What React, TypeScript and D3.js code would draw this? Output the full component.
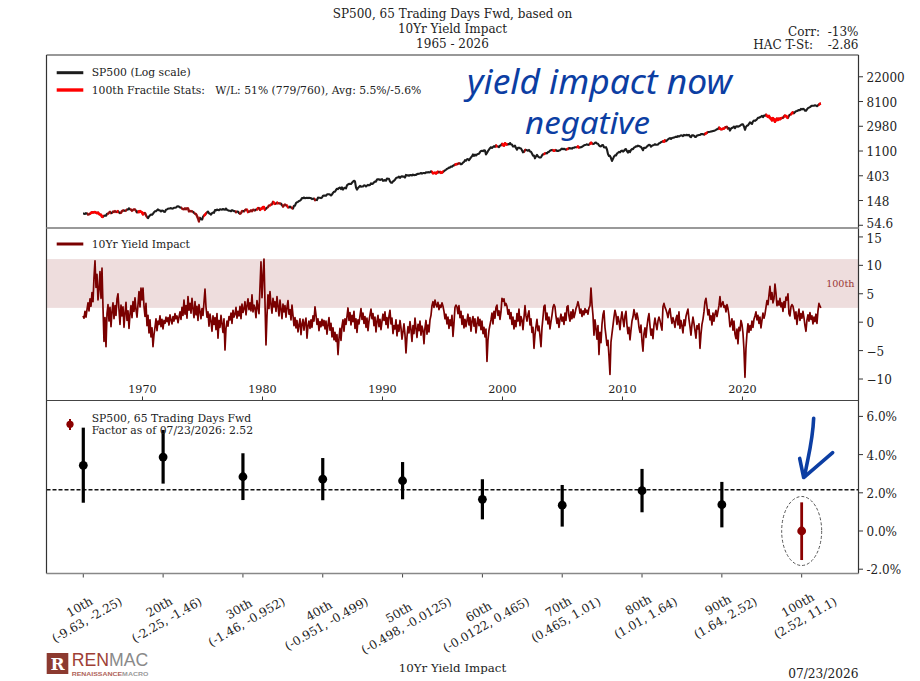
import React from 'react';
import * as d3 from 'd3';

// ---------------- DATA ----------------
const START_YEAR = 1965; // monthly series, Jan 1965 .. Jul 2026

const sp500: number[] = [
  87.6, 87.4, 86.2, 89.1, 88.0, 84.1, 85.3, 87.2, 89.9, 92.4, 91.6, 92.4, // 1965
  92.9, 91.2, 89.2, 91.1, 86.1, 84.7, 83.6, 77.1, 76.6, 80.2, 80.5, 80.3, // 1966
  86.6, 86.8, 90.2, 94.0, 89.1, 90.6, 94.8, 93.6, 96.7, 93.9, 94.0, 96.5, // 1967
  92.2, 89.4, 90.2, 97.6, 98.7, 99.6, 97.7, 98.9, 102.7, 103.4, 108.4, 103.9, // 1968
  103.0, 98.1, 101.5, 103.7, 103.5, 97.7, 91.8, 95.5, 93.1, 97.1, 93.8, 92.1, // 1969
  85.0, 89.5, 89.6, 81.5, 76.6, 72.7, 78.1, 81.5, 84.3, 83.3, 87.2, 92.2, // 1970
  95.9, 96.8, 100.3, 103.9, 99.6, 99.7, 95.6, 99.0, 98.3, 94.2, 94.0, 102.1, // 1971
  103.9, 106.6, 107.2, 107.7, 109.5, 107.1, 107.4, 111.1, 110.6, 111.6, 116.7, 118.1, // 1972
  116.0, 111.7, 111.5, 107.0, 105.0, 104.3, 108.2, 104.3, 108.4, 108.3, 96.0, 97.6, // 1973
  96.6, 96.2, 94.0, 90.3, 87.3, 86.0, 79.3, 72.2, 63.5, 73.9, 70.0, 68.6, // 1974
  77.0, 81.6, 83.4, 87.3, 91.2, 95.2, 88.8, 86.9, 83.9, 89.0, 91.2, 90.2, // 1975
  100.9, 99.7, 102.8, 101.6, 100.2, 104.3, 103.4, 102.9, 105.2, 102.9, 102.1, 107.5, // 1976
  102.0, 99.8, 98.4, 98.4, 96.1, 100.5, 98.9, 96.8, 96.5, 92.3, 94.8, 95.1, // 1977
  89.3, 87.0, 89.2, 96.8, 97.2, 95.5, 100.7, 103.3, 102.5, 93.2, 94.7, 96.1, // 1978
  99.9, 96.3, 101.6, 101.8, 99.1, 102.9, 103.8, 109.3, 109.3, 101.8, 106.2, 107.9, // 1979
  114.2, 113.7, 102.1, 106.3, 111.2, 114.2, 121.7, 122.4, 125.5, 127.5, 140.5, 135.8, // 1980
  129.6, 131.3, 136.0, 132.8, 132.6, 131.2, 130.9, 122.8, 116.2, 121.9, 126.4, 122.6, // 1981
  120.4, 113.1, 112.0, 116.4, 111.9, 109.6, 107.1, 119.5, 120.4, 133.7, 138.5, 140.6, // 1982
  145.3, 148.1, 153.0, 164.4, 162.4, 168.1, 162.6, 164.4, 166.1, 163.6, 166.4, 164.9, // 1983
  163.4, 157.1, 159.2, 160.1, 150.6, 153.2, 150.7, 166.7, 166.1, 166.1, 163.6, 167.2, // 1984
  179.6, 181.2, 180.7, 179.8, 189.6, 191.9, 190.9, 188.6, 182.1, 189.8, 202.2, 211.3, // 1985
  211.8, 226.9, 238.9, 235.5, 247.4, 250.8, 236.1, 252.9, 231.3, 244.0, 249.2, 242.2, // 1986
  274.1, 284.2, 291.7, 288.4, 290.1, 304.0, 318.7, 329.8, 321.8, 251.8, 230.3, 247.1, // 1987
  257.1, 267.8, 258.9, 261.3, 262.2, 273.5, 272.0, 261.5, 271.9, 279.0, 273.7, 277.7, // 1988
  297.5, 288.9, 294.9, 309.6, 320.5, 318.0, 346.1, 351.5, 349.2, 340.4, 346.0, 353.4, // 1989
  329.1, 331.9, 339.9, 330.8, 361.2, 358.0, 356.2, 322.6, 306.1, 304.0, 322.2, 330.2, // 1990
  343.9, 367.1, 375.2, 375.3, 389.8, 371.2, 387.8, 395.4, 387.9, 392.5, 375.2, 417.1, // 1991
  408.8, 412.7, 403.7, 415.0, 415.4, 408.1, 424.2, 414.0, 417.8, 418.7, 431.4, 435.7, // 1992
  438.8, 443.4, 451.7, 440.2, 450.2, 450.5, 448.1, 463.6, 458.9, 467.8, 461.8, 466.5, // 1993
  481.6, 467.1, 445.8, 450.9, 456.5, 444.3, 458.3, 475.5, 462.7, 472.4, 453.7, 459.3, // 1994
  470.4, 487.4, 500.7, 514.7, 533.4, 544.8, 562.1, 561.9, 584.4, 581.5, 605.4, 615.9, // 1995
  636.0, 640.4, 645.5, 654.2, 669.1, 670.6, 640.0, 652.0, 687.3, 705.3, 757.0, 740.7, // 1996
  786.2, 790.8, 757.1, 801.3, 848.3, 885.1, 954.3, 899.5, 947.3, 914.6, 955.4, 970.4, // 1997
  980.3, 1049.3, 1101.8, 1111.8, 1090.8, 1133.8, 1120.7, 957.3, 1017.0, 1098.7, 1163.6, 1229.2, // 1998
  1279.6, 1238.3, 1286.4, 1335.2, 1301.8, 1372.7, 1328.7, 1320.4, 1282.7, 1362.9, 1388.9, 1469.3, // 1999
  1394.5, 1366.4, 1498.6, 1452.4, 1420.6, 1454.6, 1430.8, 1517.7, 1436.5, 1429.4, 1315.2, 1320.3, // 2000
  1366.0, 1239.9, 1160.3, 1249.5, 1255.8, 1224.4, 1211.2, 1133.6, 1040.9, 1059.8, 1139.5, 1148.1, // 2001
  1130.2, 1106.7, 1147.4, 1076.9, 1067.1, 989.8, 911.6, 916.1, 815.3, 885.8, 936.3, 879.8, // 2002
  855.7, 841.2, 848.2, 916.9, 963.6, 974.5, 990.3, 1008.0, 996.0, 1050.7, 1058.2, 1111.9, // 2003
  1131.1, 1144.9, 1126.2, 1107.3, 1120.7, 1140.8, 1101.7, 1104.2, 1114.6, 1130.2, 1173.8, 1211.9, // 2004
  1181.3, 1203.6, 1180.6, 1156.9, 1191.5, 1191.3, 1234.2, 1220.3, 1228.8, 1207.0, 1249.5, 1248.3, // 2005
  1280.1, 1280.7, 1294.9, 1310.6, 1270.1, 1270.2, 1276.7, 1303.8, 1335.9, 1377.9, 1400.6, 1418.3, // 2006
  1438.2, 1406.8, 1420.9, 1482.4, 1530.6, 1503.4, 1455.3, 1474.0, 1527.0, 1549.4, 1481.1, 1468.4, // 2007
  1378.6, 1330.6, 1322.7, 1385.6, 1400.4, 1280.0, 1267.4, 1282.8, 1166.4, 968.8, 896.2, 903.3, // 2008
  825.9, 735.1, 797.9, 872.8, 919.1, 919.3, 987.5, 1020.6, 1057.1, 1036.2, 1095.6, 1115.1, // 2009
  1073.9, 1104.5, 1169.4, 1186.7, 1089.4, 1030.7, 1101.6, 1049.3, 1141.2, 1183.3, 1180.6, 1257.6, // 2010
  1286.1, 1327.2, 1325.8, 1363.6, 1345.2, 1320.6, 1292.3, 1218.9, 1131.4, 1253.3, 1247.0, 1257.6, // 2011
  1312.4, 1365.7, 1408.5, 1397.9, 1310.3, 1362.2, 1379.3, 1406.6, 1440.7, 1412.2, 1416.2, 1426.2, // 2012
  1498.1, 1514.7, 1569.2, 1597.6, 1630.7, 1606.3, 1685.7, 1633.0, 1681.6, 1756.5, 1805.8, 1848.4, // 2013
  1782.6, 1859.5, 1872.3, 1883.9, 1923.6, 1960.2, 1930.7, 2003.4, 1972.3, 2018.1, 2067.6, 2058.9, // 2014
  1995.0, 2104.5, 2067.9, 2085.5, 2107.4, 2063.1, 2103.8, 1972.2, 1920.0, 2079.4, 2080.4, 2043.9, // 2015
  1940.2, 1932.2, 2059.7, 2065.3, 2097.0, 2098.9, 2173.6, 2171.0, 2168.3, 2126.2, 2198.8, 2238.8, // 2016
  2278.9, 2363.6, 2362.7, 2384.2, 2411.8, 2423.4, 2470.3, 2471.7, 2519.4, 2575.3, 2647.6, 2673.6, // 2017
  2823.8, 2713.8, 2640.9, 2648.1, 2705.3, 2718.4, 2816.3, 2901.5, 2914.0, 2711.7, 2760.2, 2506.9, // 2018
  2704.1, 2784.5, 2834.4, 2945.8, 2752.1, 2941.8, 2980.4, 2926.5, 2976.7, 3037.6, 3141.0, 3230.8, // 2019
  3225.5, 2954.2, 2584.6, 2912.4, 3044.3, 3100.3, 3271.1, 3500.3, 3363.0, 3270.0, 3621.6, 3756.1, // 2020
  3714.2, 3811.2, 3972.9, 4181.2, 4204.1, 4297.5, 4395.3, 4522.7, 4307.5, 4605.4, 4567.0, 4766.2, // 2021
  4515.6, 4373.9, 4530.4, 4131.9, 4132.2, 3785.4, 4130.3, 3955.0, 3585.6, 3872.0, 4080.1, 3839.5, // 2022
  4076.6, 3970.2, 4109.3, 4169.5, 4179.8, 4450.4, 4589.0, 4507.7, 4288.1, 4193.8, 4567.8, 4769.8, // 2023
  4845.7, 5096.3, 5254.4, 5035.7, 5277.5, 5460.5, 5522.3, 5648.4, 5762.5, 5705.5, 6032.4, 5881.6, // 2024
  6040.5, 5954.5, 5611.9, 5569.1, 5911.7, 6205.0, 6339.4, 6460.3, 6688.5, 6840.2, 6849.1, 6845.5, // 2025
  6939.0, 6880.0, 6720.0, 6980.0, 7210.0, 7380.0, 7460.0, // 2026
];

const yieldImpact: number[] = [
  1.1, 0.7, 1.9, 0.9, 2.2, 3.4, 2.0, 4.1, 2.8, 5.2, 3.6, 7.9, // 1965
  10.8, 6.1, 8.4, 3.9, 5.8, 8.9, 4.2, 9.5, 2.6, -3.4, 0.8, -4.3, // 1966
  1.5, 3.1, 0.2, 2.6, -0.8, 1.9, 3.4, 0.6, 2.9, 1.2, 4.1, 5.0, // 1967
  2.2, -0.4, 3.0, 1.1, 2.7, -0.9, 1.6, 3.5, 0.3, 2.0, -1.1, 1.4, // 1968
  2.9, 0.8, 3.6, 1.9, 4.3, 2.2, 0.9, 3.1, 5.4, 2.7, 6.0, 3.9, // 1969
  6.0, 2.8, 1.0, 3.3, -0.6, 1.2, -1.9, 0.4, -2.6, -1.0, -4.3, -2.2, // 1970
  -0.9, 0.6, -1.5, 0.2, -0.4, 1.1, -0.8, 0.5, -1.2, 0.3, -0.2, 0.9, // 1971
  0.1, 0.8, -0.5, 1.3, 0.4, -0.3, 1.0, 0.2, 1.5, 0.6, 1.1, -0.1, // 1972
  0.9, 1.8, 0.5, 2.6, 1.2, 3.9, 1.4, 2.9, 0.7, 4.5, 2.1, 3.3, // 1973
  1.6, 4.2, 2.4, 0.8, 3.6, 1.3, 2.8, 0.3, 3.1, 1.9, 0.6, 2.4, // 1974
  1.2, 3.5, 5.8, 2.7, 0.9, 1.8, -0.7, 1.4, 0.2, -1.6, 1.1, -0.4, // 1975
  0.8, -1.3, 1.5, -2.8, 0.3, -0.9, 1.2, -0.3, -1.8, 0.6, -4.9, -1.1, // 1976
  0.2, -0.7, 1.0, 0.4, 1.6, -0.2, 2.1, 0.9, 1.4, 2.6, 0.7, 1.9, // 1977
  1.1, 2.8, 0.6, 3.2, 1.7, 2.4, 3.6, 1.3, 2.9, 4.1, 2.2, 3.4, // 1978
  2.0, 4.8, 1.8, 3.0, 2.5, 0.8, 3.8, 2.6, 1.5, 6.2, 10.6, 4.3, // 1979
  8.1, 11.1, 3.5, -4.0, 1.2, 4.8, 2.4, 5.4, 3.1, 1.6, 4.2, 2.7, // 1980
  3.6, 1.9, 4.5, 2.8, 1.1, 3.9, 2.3, 0.6, 3.2, 1.8, 2.9, 0.9, // 1981
  2.6, 3.8, 1.4, 2.2, 0.4, 3.0, 1.2, -0.6, 0.8, -1.0, 0.3, -1.7, // 1982
  -0.5, 0.6, -2.2, -0.3, 0.5, -1.4, -0.1, 0.7, -2.8, -0.6, 0.2, -1.1, // 1983
  0.4, -0.9, 1.1, 0.2, 2.7, 1.3, -0.4, 0.6, -1.5, 0.1, -0.8, 0.5, // 1984
  -0.6, 0.3, -1.2, 0.2, -2.1, -0.5, 0.8, -1.4, -0.2, -2.6, -1.0, -3.1, // 1985
  -1.8, -3.4, -2.2, -5.7, -2.9, -1.1, -3.2, -0.7, 0.4, -1.6, 0.6, -0.4, // 1986
  1.0, 2.5, 0.3, 1.7, -0.5, 1.2, 0.1, 1.9, -1.1, 0.6, -1.8, 0.4, // 1987
  -0.3, 1.1, 2.4, 0.5, 1.6, -0.2, 1.0, -0.9, 0.7, -1.5, 0.2, 1.3, // 1988
  2.3, 0.6, 1.5, -0.6, 0.9, -1.7, 0.2, 1.2, -0.8, 0.5, -1.3, 0.1, // 1989
  1.4, 0.3, 1.8, -0.4, 0.8, -1.0, 1.1, 2.1, -0.3, 0.7, -2.0, -0.6, // 1990
  -1.2, 0.4, -2.4, -0.5, -1.6, 0.3, -1.0, -3.0, -1.7, -0.3, -2.2, -5.4, // 1991
  -2.6, -0.8, -1.9, 0.1, -1.3, -3.4, -0.6, -2.0, 0.7, -1.1, -2.7, -0.4, // 1992
  -1.5, 0.2, -2.3, -0.7, -1.4, -3.8, -1.0, 0.3, -2.1, -0.5, -1.7, 0.4, // 1993
  1.2, 2.9, 3.6, 2.6, 3.9, 3.1, 2.7, 3.5, 2.2, 3.0, 2.6, 3.4, // 1994
  2.8, 1.9, 0.6, 1.4, -0.3, 0.9, -1.1, 0.4, -0.6, 1.2, -2.5, -0.2, // 1995
  2.6, 3.0, 2.7, 1.5, 2.9, 0.8, 1.9, -0.4, 1.1, -1.0, 0.5, -0.8, // 1996
  0.3, 1.4, -0.5, 0.8, -1.6, 0.2, 1.0, -0.7, 0.6, -1.9, -0.3, 0.9, // 1997
  -0.6, 0.5, -1.3, 0.2, -2.0, -0.9, -2.6, -1.2, -6.9, -3.1, -1.4, -0.5, // 1998
  0.4, 1.6, -0.3, 1.9, 0.7, 2.6, 3.0, 1.2, 2.0, 0.5, 1.8, 4.2, // 1999
  3.7, 4.1, 2.9, 3.3, 2.8, 1.4, 2.2, 0.6, 1.7, -0.4, 0.9, -1.2, // 2000
  0.3, -0.8, 1.5, 0.2, 2.3, -0.6, 1.0, 0.4, -1.3, 0.8, 2.9, 1.1, // 2001
  0.2, 1.3, 2.0, -0.5, 0.6, -1.8, -0.9, -4.6, -2.2, -0.8, 0.5, -1.5, // 2002
  -0.7, -2.4, -4.3, -1.0, 0.8, 2.8, 3.0, 0.4, 1.6, -0.3, 0.9, -1.2, // 2003
  0.1, 1.2, 2.6, 3.1, 2.7, 1.0, -0.2, 0.7, -0.9, 0.5, 1.4, 0.2, // 2004
  0.9, -0.4, 1.6, 0.3, 2.7, 2.9, 1.1, 0.2, 1.8, 0.6, 2.2, 0.8, // 2005
  1.5, 2.4, 2.9, 3.6, 2.8, 1.6, 2.3, 1.0, 2.0, 1.3, 2.4, 1.7, // 2006
  2.1, 1.4, 2.5, 2.9, 6.0, 3.2, 1.2, -2.3, 0.4, -1.1, -3.0, -0.6, // 2007
  -5.7, -1.8, -3.6, -0.4, 1.3, 2.0, -0.9, -2.4, -4.1, -3.2, -6.0, -9.2, // 2008
  -3.5, -2.0, -0.6, 0.9, 2.1, 1.3, -0.4, 1.0, 0.2, -1.3, 0.6, 1.8, // 2009
  0.4, -0.8, 1.1, 1.9, -0.5, -2.0, -0.9, -3.1, -1.4, 0.2, 0.9, 2.2, // 2010
  1.3, 0.5, 1.6, 0.7, -0.9, -1.8, -0.5, -3.3, -5.1, -2.0, -1.0, -2.7, // 2011
  -0.8, 0.6, 1.5, -0.6, -2.3, -1.2, -2.9, -0.5, 0.7, -0.4, -1.3, 0.2, // 2012
  0.9, 0.3, -0.6, -1.4, 2.7, 3.3, 2.6, 2.2, 1.6, 0.8, 1.9, 2.4, // 2013
  0.9, -0.2, 0.8, 0.1, -0.9, 0.6, 1.2, -0.5, 1.8, -1.1, 0.3, -0.7, // 2014
  -1.9, 0.4, -0.6, 1.0, 1.7, 2.3, 0.5, -0.8, -2.3, -0.4, 0.9, -0.2, // 2015
  -1.5, -2.8, -0.6, -1.2, -0.3, -4.6, -2.1, -0.4, 0.5, 1.8, 3.6, 4.2, // 2016
  2.8, 1.3, 2.2, 0.4, 1.1, -0.5, 1.6, 0.2, 1.4, 2.1, 1.0, 1.9, // 2017
  2.9, 4.5, 2.7, 3.2, 3.6, 2.6, 2.9, 1.8, 3.1, 2.4, 1.2, -0.8, // 2018
  -0.3, 0.6, -1.4, 0.2, -2.1, -2.9, -1.2, -3.8, -0.9, -1.5, 0.3, -0.4, // 2019
  -1.9, -4.8, -9.7, -4.6, -2.0, -0.3, -1.8, -0.6, -1.4, 0.2, -0.9, 0.5, // 2020
  1.1, 1.8, 0.4, 1.2, -0.2, 0.9, -1.0, 0.3, 1.6, 0.7, 1.4, 2.6, // 2021
  3.8, 3.1, 4.7, 6.3, 4.0, 5.2, 3.4, 4.1, 6.7, 5.1, 2.9, 3.7, // 2022
  3.0, 4.2, 2.7, 3.4, 1.9, 3.6, 2.6, 4.4, 3.9, 5.0, 1.5, 1.1, // 2023
  2.7, 3.1, 2.8, 1.9, 0.6, 1.8, -0.4, 1.2, 2.3, 0.3, 1.5, 0.7, // 2024
  1.9, 0.8, -0.6, -1.6, 0.4, 1.3, 0.2, 1.7, 0.5, 1.1, -0.3, 0.9, // 2025
  0.1, 1.4, -0.2, 2.0, 3.3, 2.8, 2.52, // 2026
];

const fractileNames = ['10th', '20th', '30th', '40th', '50th', '60th', '70th', '80th', '90th', '100th'];
const fractileRanges = [
  '(-9.63, -2.25)', '(-2.25, -1.46)', '(-1.46, -0.952)', '(-0.951, -0.499)', '(-0.498, -0.0125)',
  '(-0.0122, 0.465)', '(0.465, 1.01)', '(1.01, 1.64)', '(1.64, 2.52)', '(2.52, 11.1)',
];
const fwdMean = [3.44, 3.87, 2.84, 2.71, 2.63, 1.66, 1.35, 2.11, 1.38, 0.0];
const fwdHigh = [5.41, 5.29, 4.07, 3.82, 3.61, 2.71, 2.41, 3.25, 2.57, 1.5];
const fwdLow = [1.48, 2.48, 1.62, 1.61, 1.66, 0.61, 0.23, 0.98, 0.19, -1.52];
const fwdAverage = 2.16;
const currentBucket = 9;
const bandLow = 2.52;
const bandHigh = 11.1;

const topTickExp = [4, 5, 6, 7, 8, 9, 10];
const topTickLabels = ['54.6', '148', '403', '1100', '2980', '8100', '22000'];
const midTicks = [-10, -5, 0, 5, 10, 15];
const botTicks = [-2, 0, 2, 4, 6];
const yearTicks = [1970, 1980, 1990, 2000, 2010, 2020];

// ---------------- LAYOUT ----------------
const W = 920;
const H = 681;
const L = 46.5;
const R = 858.5;
const T1 = 55;
const B1 = 228;
const B2 = 400.5;
const B3 = 573.5;
const SERIF = '"DejaVu Serif", serif';
const DARKRED = '#7a0000';

const tOf = (i: number) => START_YEAR + (i + 0.5) / 12;

let measureCtx: CanvasRenderingContext2D | null = null;
function measure(s: string, font: string): number {
  if (!measureCtx) measureCtx = document.createElement('canvas').getContext('2d');
  if (!measureCtx) return s.length * 7;
  measureCtx.font = font;
  return measureCtx.measureText(s).width;
}

export default function App() {
  const xTime = d3.scaleLinear().domain([1962.0, 2029.67]).range([L, R]);
  const yTop = d3.scaleLog().domain([Math.exp(3.89), Math.exp(10.88)]).range([B1, T1]);
  const yMid = d3.scaleLinear().domain([-13.78, 16.57]).range([B2, B1]);
  const xCat = d3.scaleLinear().domain([-0.461, 9.712]).range([L, R]);
  const yBot = d3.scaleLinear().domain([-2.225, 6.832]).range([B3, B2]);

  const lineTop = d3
    .line<number>()
    .x((_, i) => xTime(tOf(i)))
    .y((d) => yTop(d));
  const lineMid = d3
    .line<number>()
    .x((_, i) => xTime(tOf(i)))
    .y((d) => yMid(d));

  // red runs where the factor is in the 100th fractile
  const runs: [number, number][] = [];
  yieldImpact.forEach((v, i) => {
    if (v >= bandLow) {
      const a = START_YEAR + i / 12;
      const b = START_YEAR + (i + 1) / 12;
      const last = runs[runs.length - 1];
      if (last && Math.abs(last[1] - a) < 1e-6) last[1] = b;
      else runs.push([a, b]);
    }
  });

  const labelFont = `12px ${SERIF}`;
  const lineH = 14.9;
  const rot = (30 * Math.PI) / 180;

  const cx = xCat(currentBucket);
  const cy = yBot(fwdMean[currentBucket]);

  return (
    <div style={{ position: 'fixed', left: 0, top: 0 }}>
      <svg width={W} height={H} viewBox={`0 0 ${W} ${H}`} style={{ display: 'block', background: '#fff' }}>
        <defs>
          <clipPath id="redClip">
            {runs.map((r, k) => (
              <rect key={k} x={xTime(r[0])} y={T1} width={xTime(r[1]) - xTime(r[0])} height={B1 - T1} />
            ))}
          </clipPath>
          <clipPath id="midClip">
            <rect x={L} y={B1} width={R - L} height={B2 - B1} />
          </clipPath>
        </defs>

        {/* Titles */}
        <g fontFamily={SERIF} fontSize={12} fill="#222" textAnchor="middle" dominantBaseline="central">
          <text x={(L + R) / 2} y={14}>SP500, 65 Trading Days Fwd, based on</text>
          <text x={(L + R) / 2} y={29.3}>10Yr Yield Impact</text>
          <text x={(L + R) / 2} y={44}>1965 - 2026</text>
        </g>
        <g fontFamily={SERIF} fontSize={12} fill="#222" dominantBaseline="central">
          <text x={820} y={32.3} textAnchor="end">Corr:</text>
          <text x={R} y={32.3} textAnchor="end">-13%</text>
          <text x={813} y={44.5} textAnchor="end">HAC T-St:</text>
          <text x={R} y={44.5} textAnchor="end">-2.86</text>
        </g>

        {/* ---------- TOP PANEL ---------- */}
        <path d={lineTop(sp500) || ''} fill="none" stroke="#1c1c1c" strokeWidth={2.1} strokeLinejoin="round" />
        <path
          d={lineTop(sp500) || ''}
          fill="none"
          stroke="#ff0000"
          strokeWidth={2.6}
          strokeLinejoin="round"
          clipPath="url(#redClip)"
        />
        <g fontFamily={SERIF} fontSize={10.8} fill="#222" dominantBaseline="central">
          <line x1={56.7} x2={83.3} y1={72.7} y2={72.7} stroke="#1c1c1c" strokeWidth={3} />
          <text x={91.7} y={72.7}>SP500 (Log scale)</text>
          <line x1={56.7} x2={83.3} y1={90} y2={90} stroke="#ff0000" strokeWidth={3.4} />
          <text x={91.7} y={90} style={{ whiteSpace: 'pre' }}>
            {'100th Fractile Stats:   W/L: 51% (779/760), Avg: 5.5%/-5.6%'}
          </text>
        </g>
        {topTickExp.map((e, k) => (
          <g key={e}>
            <line x1={R} x2={R + 4.5} y1={yTop(Math.exp(e))} y2={yTop(Math.exp(e))} stroke="#333" strokeWidth={1} />
            <text
              x={R + 8}
              y={yTop(Math.exp(e)) + (e === 4 ? -1.5 : 1)}
              fontFamily={SERIF}
              fontSize={12}
              fill="#222"
              dominantBaseline="central"
            >
              {topTickLabels[k]}
            </text>
          </g>
        ))}

        {/* ---------- MIDDLE PANEL ---------- */}
        <rect x={L} y={yMid(bandHigh)} width={R - L} height={yMid(bandLow) - yMid(bandHigh)} fill="#eedddd" />
        <text
          x={R - 4}
          y={yMid((bandLow + bandHigh) / 2)}
          fontFamily={SERIF}
          fontSize={9.6}
          fill="#9a3535"
          textAnchor="end"
          dominantBaseline="central"
        >
          100th
        </text>
        <path
          d={lineMid(yieldImpact) || ''}
          fill="none"
          stroke={DARKRED}
          strokeWidth={1.7}
          strokeLinejoin="round"
          clipPath="url(#midClip)"
        />
        <g fontFamily={SERIF} fontSize={10.8} fill="#222" dominantBaseline="central">
          <line x1={56.7} x2={83.3} y1={244} y2={244} stroke={DARKRED} strokeWidth={3} />
          <text x={91.7} y={244}>10Yr Yield Impact</text>
        </g>
        {midTicks.map((v) => (
          <g key={v}>
            <line x1={R} x2={R + 4.5} y1={yMid(v)} y2={yMid(v)} stroke="#333" strokeWidth={1} />
            <text
              x={R + 8}
              y={yMid(v) + (v === 15 ? 2.5 : 1)}
              fontFamily={SERIF}
              fontSize={12}
              fill="#222"
              dominantBaseline="central"
            >
              {v < 0 ? `\u2212${Math.abs(v)}` : `${v}`}
            </text>
          </g>
        ))}
        {yearTicks.map((yr) => (
          <g key={yr}>
            <line x1={xTime(yr)} x2={xTime(yr)} y1={B2} y2={B2 - 4} stroke="#333" strokeWidth={1} />
            <text
              x={xTime(yr)}
              y={389.5}
              fontFamily={SERIF}
              fontSize={11.2}
              fill="#222"
              textAnchor="middle"
              dominantBaseline="central"
            >
              {yr}
            </text>
          </g>
        ))}

        {/* ---------- BOTTOM PANEL ---------- */}
        <line
          x1={L}
          x2={R}
          y1={yBot(fwdAverage)}
          y2={yBot(fwdAverage)}
          stroke="#111"
          strokeWidth={1.5}
          strokeDasharray="4 2"
        />
        {fwdMean.map((m, i) => {
          const col = i === currentBucket ? '#8b0000' : '#000';
          return (
            <g key={i}>
              <line
                x1={xCat(i)}
                x2={xCat(i)}
                y1={yBot(fwdLow[i])}
                y2={yBot(fwdHigh[i])}
                stroke={col}
                strokeWidth={i === currentBucket ? 2.8 : 3.2}
              />
              <circle cx={xCat(i)} cy={yBot(m)} r={4.4} fill={col} />
            </g>
          );
        })}
        <ellipse cx={cx} cy={cy} rx={20} ry={34.5} fill="none" stroke="#555" strokeWidth={1} strokeDasharray="3 2" />

        {/* bottom legend */}
        <line x1={70} x2={70} y1={419} y2={430} stroke="#8b0000" strokeWidth={2} />
        <circle cx={70} cy={424.3} r={3.6} fill="#8b0000" />
        <g fontFamily={SERIF} fontSize={10.8} fill="#222" dominantBaseline="central">
          <text x={91.7} y={418.3}>SP500, 65 Trading Days Fwd</text>
          <text x={91.7} y={430.8}>Factor as of 07/23/2026: 2.52</text>
        </g>

        {botTicks.map((v) => (
          <g key={v}>
            <line x1={R} x2={R + 4.5} y1={yBot(v)} y2={yBot(v)} stroke="#333" strokeWidth={1} />
            <text x={R + 8} y={yBot(v) + 1} fontFamily={SERIF} fontSize={12} fill="#222" dominantBaseline="central">
              {`${v.toFixed(1)}%`}
            </text>
          </g>
        ))}
        {fractileNames.map((nm, i) => {
          const w = Math.max(measure(nm, labelFont), measure(fractileRanges[i], labelFont));
          const hh = 2 * lineH;
          const bh = w * Math.sin(rot) + hh * Math.cos(rot);
          const ccy = 581 + bh / 2;
          return (
            <g key={nm}>
              <line x1={xCat(i)} x2={xCat(i)} y1={B3} y2={B3 + 4} stroke="#444" strokeWidth={1} />
              <g transform={`translate(${xCat(i)},${ccy}) rotate(-30)`}>
                <text
                  x={0}
                  y={-lineH / 2}
                  fontFamily={SERIF}
                  fontSize={12}
                  fill="#222"
                  textAnchor="middle"
                  dominantBaseline="central"
                >
                  {nm}
                </text>
                <text
                  x={0}
                  y={lineH / 2}
                  fontFamily={SERIF}
                  fontSize={12}
                  fill="#222"
                  textAnchor="middle"
                  dominantBaseline="central"
                >
                  {fractileRanges[i]}
                </text>
              </g>
            </g>
          );
        })}
        <text
          x={(L + R) / 2}
          y={668}
          fontFamily={SERIF}
          fontSize={11.8}
          fill="#222"
          textAnchor="middle"
          dominantBaseline="central"
        >
          10Yr Yield Impact
        </text>
        <text x={R} y={674} fontFamily={SERIF} fontSize={12.2} fill="#222" textAnchor="end" dominantBaseline="central">
          07/23/2026
        </text>

        {/* ---------- FRAMES ---------- */}
        <line x1={L} x2={R} y1={T1} y2={T1} stroke="#333" strokeWidth={1.2} />
        <line x1={L} x2={L} y1={T1} y2={B3} stroke="#333" strokeWidth={1.2} />
        <line x1={R} x2={R} y1={T1} y2={B3} stroke="#333" strokeWidth={1.2} />
        <line x1={L} x2={R} y1={B1} y2={B1} stroke="#999" strokeWidth={2} />
        <line x1={L} x2={R} y1={B2} y2={B2} stroke="#444" strokeWidth={1.2} />
        <line x1={L} x2={R} y1={B3} y2={B3} stroke="#888" strokeWidth={1.5} />

        {/* ---------- HANDWRITTEN ANNOTATIONS ---------- */}
        <g fill="#0c3ea3" fontFamily='"Noto Sans", sans-serif' fontStyle="italic">
          <text x={467} y={94} fontSize={34} textLength={265} lengthAdjust="spacingAndGlyphs">
            yield impact now
          </text>
          <text x={525} y={134} fontSize={30} textLength={125} lengthAdjust="spacingAndGlyphs">
            negative
          </text>
        </g>
        <g fill="none" stroke="#0c3ea3" strokeWidth={3.6} strokeLinecap="round" strokeLinejoin="round">
          <path d={`M${cx + 12},${yBot(5.9)} C${cx + 11},${yBot(4.6)} ${cx + 5},${yBot(3.6)} ${cx + 3},${yBot(2.85)}`} />
          <path d={`M${cx - 2},${yBot(3.8)} L${cx + 2},${yBot(2.8)} L${cx + 31},${yBot(4.1)}`} />
        </g>

        {/* ---------- LOGO ---------- */}
        <rect x={46.7} y={653} width={21.6} height={21} fill="#8c3a30" />
        <text x={57.5} y={664} fontFamily={SERIF} fontSize={17} fontWeight="bold" fill="#fff" textAnchor="middle" dominantBaseline="central">
          R
        </text>
        <text x={71.7} y={665.5} fontFamily='"Liberation Sans", sans-serif' fontSize={18} textLength={76.6} lengthAdjust="spacingAndGlyphs">
          <tspan fill="#9e3f35">REN</tspan>
          <tspan fill="#8a8a8a">MAC</tspan>
        </text>
        <text x={71.7} y={675.5} fontFamily='"Liberation Sans", sans-serif' fontSize={5} fontWeight="bold" textLength={76.6} lengthAdjust="spacingAndGlyphs">
          <tspan fill="#b0645a">RENAISSANCE</tspan>
          <tspan fill="#9a9a9a">MACRO</tspan>
        </text>
      </svg>
    </div>
  );
}
